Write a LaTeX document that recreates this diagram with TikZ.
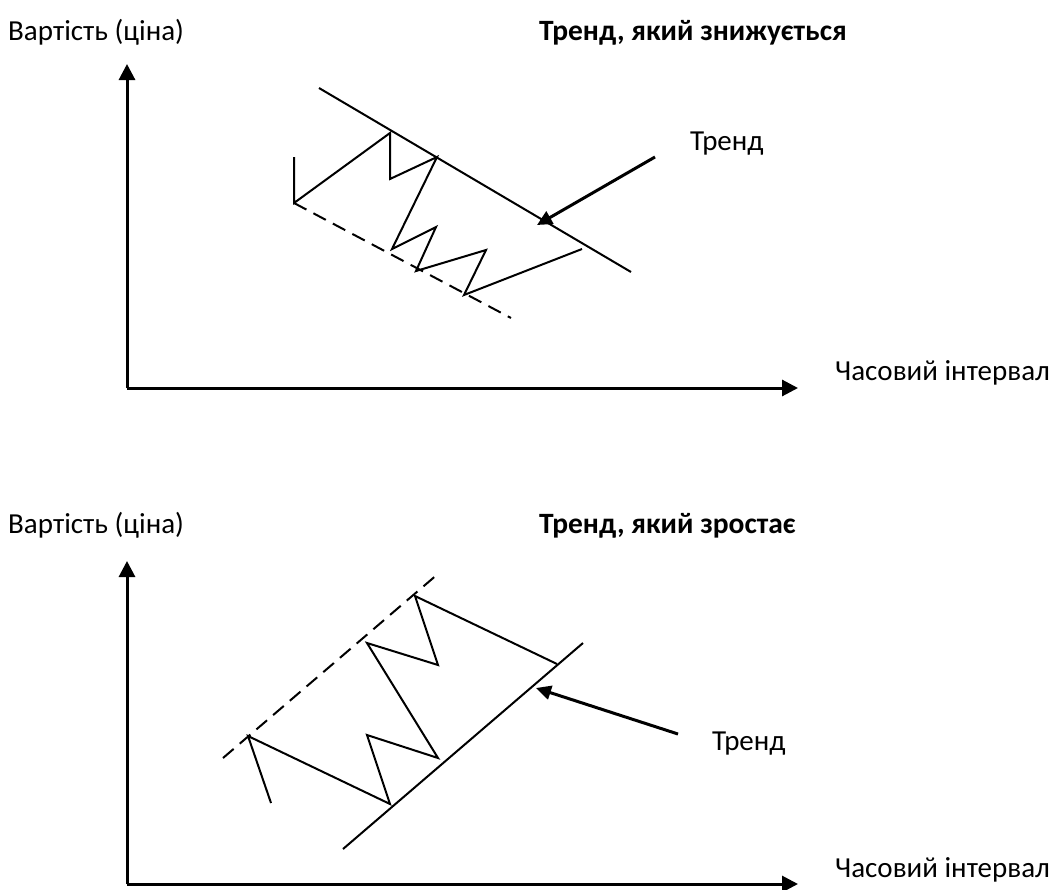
\documentclass[tikz,border=0pt]{standalone}
\usepackage{fontspec}
\setmainfont{Carlito}
\usetikzlibrary{arrows.meta}
\begin{document}
\begin{tikzpicture}[x=1pt,y=-1pt,
  axis/.style={line width=3pt,-{Triangle[length=16pt,width=16pt]}},
  price/.style={line width=2pt,line join=miter},
  trendline/.style={line width=2pt},
  support/.style={line width=2pt,dash pattern=on 14pt off 8pt},
  pointer/.style={line width=3pt,-{Triangle[length=15pt,width=14pt]}},
  lbl/.style={font=\fontsize{29}{34}\selectfont,anchor=base west,inner sep=0pt},
  ttl/.style={lbl,font=\fontsize{29.5}{34}\selectfont\bfseries}]
\useasboundingbox (0,0) rectangle (1054,889);

% ---------- falling trend ----------
\node[lbl] (yA) at (8,40) {Вартість (ціна)};
\node[ttl] (tA) at (539,40) {Тренд, який знижується};
\node[lbl] (xA) at (835,380) {Часовий інтервал};
\node[lbl] (nA) at (690,150) {Тренд};

\coordinate (oA) at (127,388);
\coordinate (yendA) at (127,64);
\coordinate (xendA) at (798,388);
\draw[axis] (oA) -- (yendA);
\draw[axis] (oA) -- (xendA);

\coordinate (ta1) at (319,88);
\coordinate (ta2) at (631,272);
\draw[trendline] (ta1) -- (ta2);

\coordinate (sa1) at (294,203);
\coordinate (sa2) at (511,318);
\draw[support] (sa1) -- (sa2);

\draw[price] (294,157) -- (sa1) -- (390,133) -- (390,179) -- (437,157)
  -- (392,249) -- (436,227) -- (416,271) -- (486,250) -- (464,295) -- (582,249);

\coordinate (pa1) at (655,157);
\coordinate (pa2) at (537,225);
\draw[pointer] (pa1) -- (pa2);

% ---------- rising trend ----------
\node[lbl] (yB) at (8,533) {Вартість (ціна)};
\node[ttl] (tB) at (539,533) {Тренд, який зростає};
\node[lbl] (xB) at (835,877) {Часовий інтервал};
\node[lbl] (nB) at (712,750) {Тренд};

\coordinate (oB) at (127,884);
\coordinate (yendB) at (127,561);
\coordinate (xendB) at (798,884);
\draw[axis] (oB) -- (yendB);
\draw[axis] (oB) -- (xendB);

\coordinate (tb1) at (343,849);
\coordinate (tb2) at (583,643);
\draw[trendline] (tb1) -- (tb2);

\coordinate (sb1) at (223,758);
\coordinate (sb2) at (439,573);
\draw[support] (sb1) -- (sb2);

\draw[price] (271,803) -- (248,736) -- (390,804) -- (367,735) -- (438,758)
  -- (367,643) -- (438,665) -- (415,596) -- (557,664);

\coordinate (pb1) at (678,734);
\coordinate (pb2) at (536,688);
\draw[pointer] (pb1) -- (pb2);
\end{tikzpicture}
\end{document}
